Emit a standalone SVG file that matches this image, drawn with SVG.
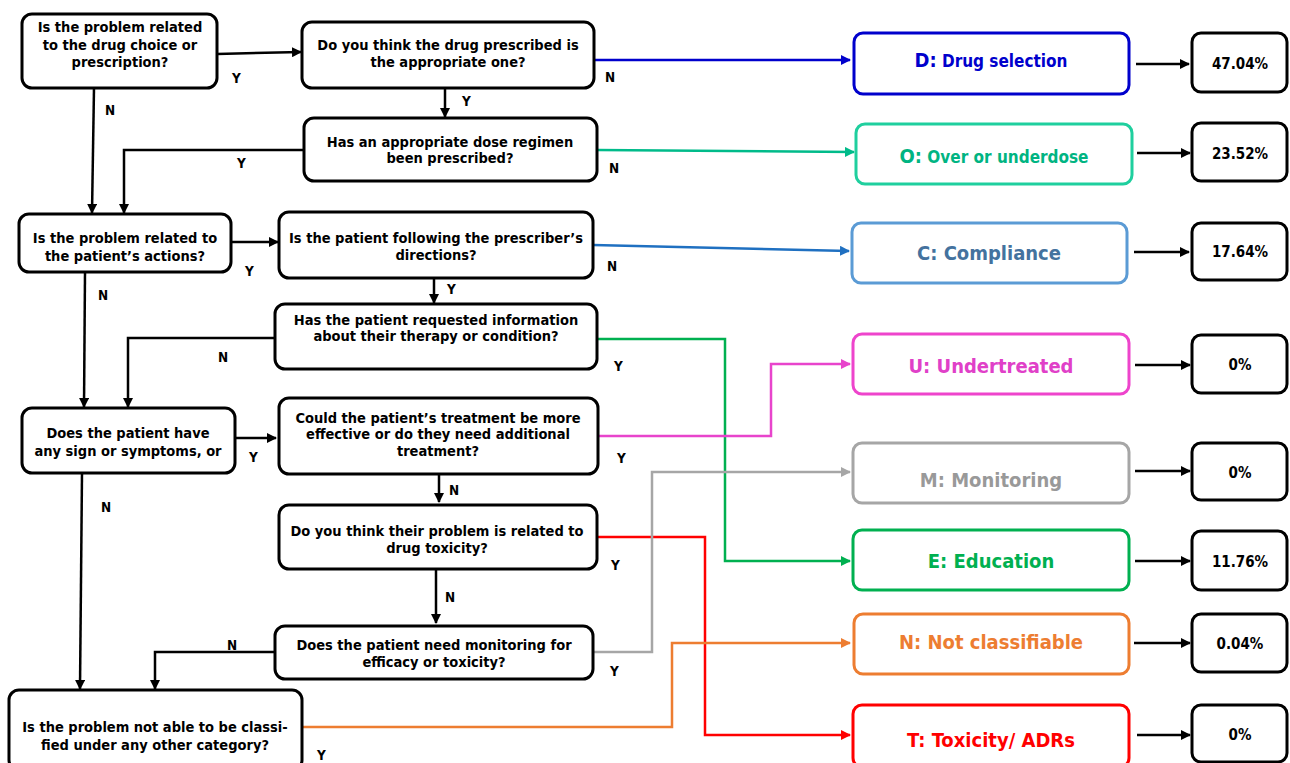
<svg xmlns="http://www.w3.org/2000/svg" width="1290" height="763" viewBox="0 0 1290 763">
<defs>
<style>
text{font-family:"DejaVu Sans Condensed","DejaVu Sans",sans-serif;font-weight:bold;text-anchor:middle;}
.q{font-size:14.5px;fill:#000;}
.box{fill:#fff;stroke:#000;stroke-width:3;}
.lbl{font-size:13.5px;fill:#000;text-anchor:start;}
.cat{font-size:20px;}
.pct{font-size:15px;fill:#000;}
.c{fill:none;stroke-width:2.5;}
</style>
<marker id="ak" viewBox="0 0 10 10" refX="9" refY="5" markerWidth="4" markerHeight="4" orient="auto" markerUnits="strokeWidth"><path d="M0,0L10,5L0,10z" fill="#000"/></marker>
<marker id="ab" viewBox="0 0 10 10" refX="9" refY="5" markerWidth="4" markerHeight="4" orient="auto" markerUnits="strokeWidth"><path d="M0,0L10,5L0,10z" fill="#0000cc"/></marker>
<marker id="ao" viewBox="0 0 10 10" refX="9" refY="5" markerWidth="4" markerHeight="4" orient="auto" markerUnits="strokeWidth"><path d="M0,0L10,5L0,10z" fill="#00bb8a"/></marker>
<marker id="ac" viewBox="0 0 10 10" refX="9" refY="5" markerWidth="4" markerHeight="4" orient="auto" markerUnits="strokeWidth"><path d="M0,0L10,5L0,10z" fill="#1f70c1"/></marker>
<marker id="au" viewBox="0 0 10 10" refX="9" refY="5" markerWidth="4" markerHeight="4" orient="auto" markerUnits="strokeWidth"><path d="M0,0L10,5L0,10z" fill="#e844cc"/></marker>
<marker id="am" viewBox="0 0 10 10" refX="9" refY="5" markerWidth="4" markerHeight="4" orient="auto" markerUnits="strokeWidth"><path d="M0,0L10,5L0,10z" fill="#a6a6a6"/></marker>
<marker id="ae" viewBox="0 0 10 10" refX="9" refY="5" markerWidth="4" markerHeight="4" orient="auto" markerUnits="strokeWidth"><path d="M0,0L10,5L0,10z" fill="#00b050"/></marker>
<marker id="an" viewBox="0 0 10 10" refX="9" refY="5" markerWidth="4" markerHeight="4" orient="auto" markerUnits="strokeWidth"><path d="M0,0L10,5L0,10z" fill="#ed7d31"/></marker>
<marker id="at" viewBox="0 0 10 10" refX="9" refY="5" markerWidth="4" markerHeight="4" orient="auto" markerUnits="strokeWidth"><path d="M0,0L10,5L0,10z" fill="#ff0000"/></marker>
</defs>
<rect width="1290" height="763" fill="#fff"/>

<g id="connectors">
<g stroke="#000" class="c">
<path d="M217,54 L301,52" marker-end="url(#ak)"/>
<path d="M445,88 L445,117" marker-end="url(#ak)"/>
<path d="M304,150 L124,150 L124,213" marker-end="url(#ak)"/>
<path d="M94,88 L92,213" marker-end="url(#ak)"/>
<path d="M231,242 L278,242" marker-end="url(#ak)"/>
<path d="M434,278 L434,303" marker-end="url(#ak)"/>
<path d="M275,338 L128,338 L128,407" marker-end="url(#ak)"/>
<path d="M85,272 L84,407" marker-end="url(#ak)"/>
<path d="M235,438 L276,438" marker-end="url(#ak)"/>
<path d="M439,474 L439,502" marker-end="url(#ak)"/>
<path d="M436,569 L436,623" marker-end="url(#ak)"/>
<path d="M275,652 L155,652 L155,689" marker-end="url(#ak)"/>
<path d="M82,473 L80,689" marker-end="url(#ak)"/>
<path d="M1136,64 L1189,64" marker-end="url(#ak)"/>
<path d="M1137,153 L1190,153" marker-end="url(#ak)"/>
<path d="M1134,252 L1189,252" marker-end="url(#ak)"/>
<path d="M1135,365 L1190,365" marker-end="url(#ak)"/>
<path d="M1135,471 L1190,471" marker-end="url(#ak)"/>
<path d="M1135,561 L1190,561" marker-end="url(#ak)"/>
<path d="M1134,643 L1190,643" marker-end="url(#ak)"/>
<path d="M1137,735 L1190,735" marker-end="url(#ak)"/>
</g>
<path class="c" stroke="#0000cc" d="M594,60 L850,60" marker-end="url(#ab)"/>
<path class="c" stroke="#00bb8a" d="M597,150 L854,152" marker-end="url(#ao)"/>
<path class="c" stroke="#1f70c1" d="M593,245 L849,251" marker-end="url(#ac)"/>
<path class="c" stroke="#00b050" d="M597,339 L725,339 L725,561 L850,561" marker-end="url(#ae)"/>
<path class="c" stroke="#e844cc" d="M598,436 L771,436 L771,364 L850,364" marker-end="url(#au)"/>
<path class="c" stroke="#ff0000" d="M597,537 L705,537 L705,735 L850,735" marker-end="url(#at)"/>
<path class="c" stroke="#a6a6a6" d="M593,652 L652,652 L652,472 L850,472" marker-end="url(#am)"/>
<path class="c" stroke="#ed7d31" d="M302,727 L672,727 L672,643 L850,643" marker-end="url(#an)"/>
<text class="lbl" x="232" y="83">Y</text>
<text class="lbl" x="462" y="106">Y</text>
<text class="lbl" x="237" y="168">Y</text>
<text class="lbl" x="105" y="115">N</text>
<text class="lbl" x="245" y="276">Y</text>
<text class="lbl" x="447" y="294">Y</text>
<text class="lbl" x="218" y="362">N</text>
<text class="lbl" x="98" y="300">N</text>
<text class="lbl" x="249" y="462">Y</text>
<text class="lbl" x="449" y="495">N</text>
<text class="lbl" x="445" y="602">N</text>
<text class="lbl" x="227" y="650">N</text>
<text class="lbl" x="101" y="512">N</text>
<text class="lbl" x="605" y="82">N</text>
<text class="lbl" x="609" y="173">N</text>
<text class="lbl" x="607" y="271">N</text>
<text class="lbl" x="614" y="371">Y</text>
<text class="lbl" x="617" y="463">Y</text>
<text class="lbl" x="611" y="570">Y</text>
<text class="lbl" x="610" y="676">Y</text>
<text class="lbl" x="317" y="760">Y</text>
</g>

<g id="q1"><rect class="box" x="22" y="14" width="195" height="74" rx="10"/><text class="q" x="120" y="32">Is the problem related</text><text class="q" x="120" y="50">to the drug choice or</text><text class="q" x="120" y="67">prescription?</text></g>
<g id="q2"><rect class="box" x="302" y="22" width="292" height="66" rx="10"/><text class="q" x="448" y="50">Do you think the drug prescribed is</text><text class="q" x="448" y="67">the appropriate one?</text></g>
<g id="q3"><rect class="box" x="304" y="118" width="293" height="63" rx="10"/><text class="q" x="450" y="147">Has an appropriate dose regimen</text><text class="q" x="450" y="163">been prescribed?</text></g>
<g id="q4"><rect class="box" x="19" y="214" width="212" height="58" rx="10"/><text class="q" x="125" y="243">Is the problem related to</text><text class="q" x="125" y="261">the patient’s actions?</text></g>
<g id="q5"><rect class="box" x="279" y="212" width="314" height="66" rx="10"/><text class="q" x="436" y="243">Is the patient following the prescriber’s</text><text class="q" x="436" y="260">directions?</text></g>
<g id="q6"><rect class="box" x="275" y="304" width="322" height="65" rx="10"/><text class="q" x="436" y="325">Has the patient requested information</text><text class="q" x="436" y="341">about their therapy or condition?</text></g>
<g id="q7"><rect class="box" x="22" y="408" width="213" height="65" rx="10"/><text class="q" x="128" y="438">Does the patient have</text><text class="q" x="128" y="456">any sign or symptoms, or</text></g>
<g id="q8"><rect class="box" x="279" y="398" width="319" height="76" rx="10"/><text class="q" x="438" y="423">Could the patient’s treatment be more</text><text class="q" x="438" y="439">effective or do they need additional</text><text class="q" x="438" y="456">treatment?</text></g>
<g id="q9"><rect class="box" x="279" y="505" width="318" height="64" rx="10"/><text class="q" x="437" y="536">Do you think their problem is related to</text><text class="q" x="437" y="553">drug toxicity?</text></g>
<g id="q10"><rect class="box" x="275" y="626" width="318" height="53" rx="10"/><text class="q" x="434" y="650">Does the patient need monitoring for</text><text class="q" x="434" y="667">efficacy or toxicity?</text></g>
<g id="q11"><rect class="box" x="9" y="690" width="293" height="80" rx="10"/><text class="q" x="155" y="732">Is the problem not able to be classi-</text><text class="q" x="155" y="750">fied under any other category?</text></g>

<g id="catD"><rect x="854" y="33" width="275" height="61" rx="9" fill="#fff" stroke="#0000cc" stroke-width="3"/><text x="991" y="67" fill="#0000cc" font-size="17"><tspan font-size="20">D:</tspan> Drug selection</text></g>
<g id="catO"><rect x="856" y="124" width="276" height="60" rx="9" fill="#fff" stroke="#1fcf9e" stroke-width="3"/><text x="994" y="163" fill="#00b482" font-size="17"><tspan font-size="20">O:</tspan> Over or underdose</text></g>
<g id="catC"><rect x="852" y="223" width="275" height="60" rx="9" fill="#fff" stroke="#5b9bd5" stroke-width="3"/><text class="cat" x="989" y="260" fill="#44729e">C: Compliance</text></g>
<g id="catU"><rect x="853" y="334" width="276" height="60" rx="9" fill="#fff" stroke="#ee44cc" stroke-width="3"/><text class="cat" x="991" y="373" fill="#e040c8">U: Undertreated</text></g>
<g id="catM"><rect x="853" y="443" width="276" height="60" rx="9" fill="#fff" stroke="#a6a6a6" stroke-width="3"/><text class="cat" x="991" y="487" fill="#999999">M: Monitoring</text></g>
<g id="catE"><rect x="853" y="530" width="276" height="60" rx="9" fill="#fff" stroke="#00b050" stroke-width="3"/><text class="cat" x="991" y="568" fill="#00b050">E: Education</text></g>
<g id="catN"><rect x="854" y="614" width="275" height="60" rx="9" fill="#fff" stroke="#ed7d31" stroke-width="3"/><text class="cat" x="991" y="649" fill="#ed7d31">N: Not classifiable</text></g>
<g id="catT"><rect x="853" y="705" width="276" height="62" rx="9" fill="#fff" stroke="#ff0000" stroke-width="3"/><text class="cat" x="991" y="747" fill="#ff0000">T: Toxicity/ ADRs</text></g>

<g id="p1"><rect class="box" x="1192" y="33" width="95" height="59" rx="9"/><text class="pct" x="1240" y="69">47.04%</text></g>
<g id="p2"><rect class="box" x="1192" y="123" width="95" height="58" rx="9"/><text class="pct" x="1240" y="159">23.52%</text></g>
<g id="p3"><rect class="box" x="1192" y="223" width="95" height="57" rx="9"/><text class="pct" x="1240" y="257">17.64%</text></g>
<g id="p4"><rect class="box" x="1192" y="335" width="95" height="58" rx="9"/><text class="pct" x="1240" y="370">0%</text></g>
<g id="p5"><rect class="box" x="1192" y="443" width="95" height="57" rx="9"/><text class="pct" x="1240" y="478">0%</text></g>
<g id="p6"><rect class="box" x="1192" y="531" width="95" height="59" rx="9"/><text class="pct" x="1240" y="567">11.76%</text></g>
<g id="p7"><rect class="box" x="1192" y="614" width="95" height="58" rx="9"/><text class="pct" x="1240" y="649">0.04%</text></g>
<g id="p8"><rect class="box" x="1192" y="705" width="95" height="57" rx="9"/><text class="pct" x="1240" y="740">0%</text></g>
</svg>
